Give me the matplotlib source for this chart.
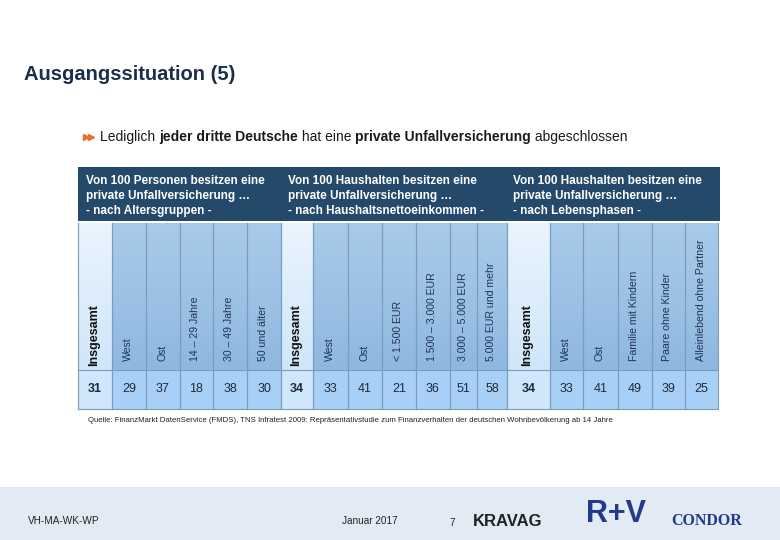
import matplotlib.pyplot as plt
import matplotlib.colors as m_colors
import numpy as np

plt.rcParams['font.family'] = ['Liberation Sans', 'DejaVu Sans']

# Data
group_titles = [
    "Von 100 Personen besitzen eine\nprivate Unfallversicherung …\n- nach Altersgruppen -",
    "Von 100 Haushalten besitzen eine\nprivate Unfallversicherung …\n- nach Haushaltsnettoeinkommen -",
    "Von 100 Haushalten besitzen eine\nprivate Unfallversicherung …\n- nach Lebensphasen -",
]
age_labels = ["Insgesamt", "West", "Ost", "14 – 29 Jahre", "30 – 49 Jahre", "50 und älter"]
age_values = [31, 29, 37, 18, 38, 30]
income_labels = ["Insgesamt", "West", "Ost", "< 1.500 EUR", "1.500 – 3.000 EUR",
                 "3.000 – 5.000 EUR", "5.000 EUR und mehr"]
income_values = [34, 33, 41, 21, 36, 51, 58]
life_labels = ["Insgesamt", "West", "Ost", "Familie mit Kindern", "Paare ohne Kinder",
               "Alleinlebend ohne Partner"]
life_values = [34, 33, 41, 49, 39, 25]

# column edges in pixels
edges = [
    [78, 112, 146, 180, 213, 247, 281],
    [281, 313, 348, 382, 416, 450, 477, 507],
    [507, 550, 583, 618, 652, 685, 718],
]

fig = plt.figure(figsize=(7.8, 5.4), dpi=100)
ax = fig.add_axes([0, 0, 1, 1])
ax.set_xlim(0, 780)
ax.set_ylim(540, 0)
ax.axis('off')

dark = '#24496b'
navy = '#1b2f4d'

# title
ax.text(24, 75, "Ausgangssituation (5)", fontsize=14.5, fontweight='bold', color=navy, va='center')

# bullet
ax.plot([85.5, 90.5], [137, 137], marker='>', linestyle='none', color='#e8712a', markersize=5)
parts = [("Lediglich ", 'normal'), ("jeder dritte Deutsche", 'bold'), (" hat eine ", 'normal'),
         ("private Unfallversicherung", 'bold'), (" abgeschlossen", 'normal')]
fig.canvas.draw()
renderer = fig.canvas.get_renderer()
x = 100
for s, w in parts:
    t = ax.text(x, 137, s, fontsize=10, fontweight=w, color='#1a1a1a', va='center')
    bb = t.get_window_extent(renderer)
    x += bb.width

# dark header band
ax.add_patch(plt.Rectangle((78, 167), 720 - 78, 54, color=dark, lw=0))
title_x = [86, 288, 513]
for tx, tt in zip(title_x, group_titles):
    ax.text(tx, 175, tt, fontsize=8.5, fontweight='bold', color='white', va='top',
            linespacing=1.35)

top_h, bot_h, bot_v = 223, 370, 409

grad = np.linspace(0, 1, 100).reshape(-1, 1)
mid_cmap = m_colors.LinearSegmentedColormap.from_list('m', ['#a9cbea', '#8fb8e0'])
light_cmap = m_colors.LinearSegmentedColormap.from_list('l', ['#eaf4fd', '#cfe6fa'])

groups = [(age_labels, age_values), (income_labels, income_values), (life_labels, life_values)]
for (labels, values), e in zip(groups, edges):
    for i, (lab, val) in enumerate(zip(labels, values)):
        x0, x1 = e[i], e[i + 1]
        first = lab == "Insgesamt"
        ax.imshow(grad, extent=(x0, x1, bot_h, top_h), aspect='auto',
                  cmap=light_cmap if first else mid_cmap, zorder=1)
        ax.add_patch(plt.Rectangle((x0, bot_h), x1 - x0, bot_v - bot_h,
                                   color='#d0e6fb' if first else '#a8d0f6', lw=0, zorder=1))
        ax.plot([x0, x0], [top_h, bot_v], color='#7a9cbe', lw=0.8, zorder=2)
        ax.plot([x1, x1], [top_h, bot_v], color='#7a9cbe', lw=0.8, zorder=2)
        xc = (x0 + x1) / 2
        if first:
            ax.text(xc - 1, 366, lab, rotation=90, ha='center', va='bottom',
                    fontsize=9, fontweight='bold', color='#111111', zorder=3)
        else:
            ax.text(xc - 1, 361, lab, rotation=90, ha='center', va='bottom',
                    fontsize=7.6, color='#1f3552', zorder=3)
        ax.text(xc, 389, str(val), ha='center', va='center', fontsize=9,
                fontweight='bold' if first else 'normal', color='#1f2a3a', zorder=3)
ax.plot([78, 718], [bot_h, bot_h], color='#7a9cbe', lw=0.8, zorder=2)
ax.plot([78, 718], [bot_v, bot_v], color='#7a9cbe', lw=0.8, zorder=2)

ax.text(88, 421, "Quelle: FinanzMarkt DatenService (FMDS), TNS Infratest 2009: Repräsentativstudie zum "
        "Finanzverhalten der deutschen Wohnbevölkerung ab 14 Jahre",
        fontsize=5.6, color='#222222', va='center')

# footer
ax.add_patch(plt.Rectangle((0, 487), 780, 53, color='#e2eaf4', lw=0, zorder=0))
ax.text(28, 521, "VH-MA-WK-WP", fontsize=7.2, color='#222222', va='center')
ax.text(342, 521, "Januar 2017", fontsize=7.2, color='#222222', va='center')
ax.text(450, 523, "7", fontsize=7.2, color='#222222', va='center')
ax.text(473, 522, "KRAVAG", fontsize=12, fontweight='bold', color='#222222', va='center')
ax.text(586, 514, "R+V", fontsize=22, fontweight='bold', color='#233a8c', va='center')
ax.text(671, 521, "CONDOR", fontsize=11.5, fontweight='bold', family='Liberation Serif',
        color='#233a8c', va='center')

fig.savefig('out.png', dpi=100)
